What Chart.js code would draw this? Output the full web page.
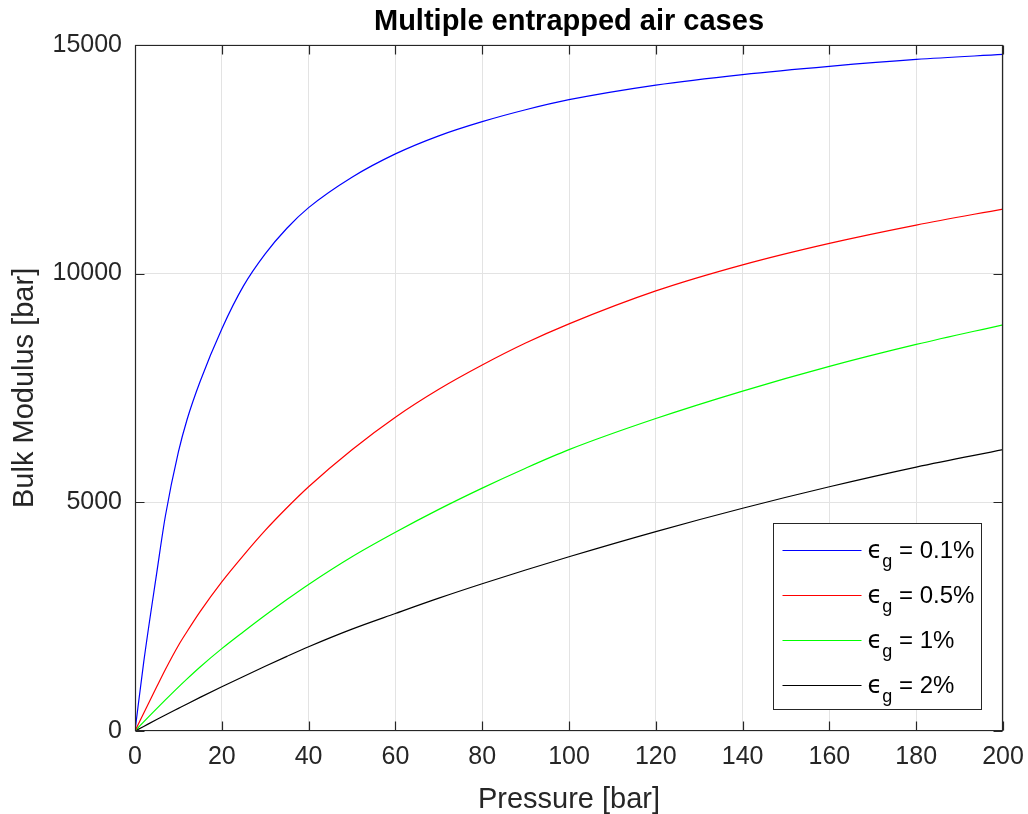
<!DOCTYPE html>
<html lang="en">
<head>
    <meta charset="UTF-8">
    <title>Multiple entrapped air cases</title>
    <script src="https://cdn.jsdelivr.net/npm/chart.js"></script>
    <style>
        body {
            margin: 0;
            padding: 0;
            background: white;
        }
        .chart-container {
            width: 1028px;
            height: 814px;
            position: relative;
        }
    </style>
</head>
<body>
    <div class="chart-container">
        <canvas id="bulkChart"></canvas>
    </div>

    <script>
        // values
        const pressure = [0, 2, 5, 7, 10, 12, 15, 20, 25, 30, 35, 40, 50, 60, 70, 80, 90, 100, 120, 140, 160, 180, 200];
        const bulk01 = [0, 1500, 3450, 4700, 6100, 6810, 7640, 8790, 9730, 10430, 10990, 11440, 12105, 12615, 13010, 13320, 13580, 13800, 14120, 14350, 14530, 14680, 14790];
        const bulk05 = [0, 390, 965, 1345, 1870, 2175, 2610, 3260, 3840, 4385, 4880, 5340, 6150, 6860, 7470, 8000, 8480, 8900, 9620, 10190, 10660, 11060, 11410];
        const bulk1 = [0, 200, 490, 680, 960, 1140, 1400, 1800, 2170, 2530, 2875, 3205, 3810, 4345, 4845, 5310, 5745, 6150, 6830, 7430, 7970, 8450, 8880];
        const bulk2 = [0, 100, 250, 349, 495, 592, 735, 967, 1193, 1415, 1632, 1842, 2227, 2569, 2904, 3219, 3519, 3809, 4359, 4869, 5339, 5769, 6149];
        const airLabels = ['0.1%', '0.5%', '1%', '2%'];
        const lineColors = ['#0000ff', '#ff0000', '#00ff00', '#000000'];
        const xTicks = [0, 20, 40, 60, 80, 100, 120, 140, 160, 180, 200];
        const yTicks = [0, 5000, 10000, 15000];

        const FONT = '"Liberation Sans", Arial, Helvetica, sans-serif';
        const AXIS = '#262626';

        const series = [bulk01, bulk05, bulk1, bulk2];

        const datasets = series.map((vals, i) => ({
            label: airLabels[i],
            data: pressure.map((p, j) => ({ x: p, y: vals[j] })),
            borderColor: lineColors[i],
            borderWidth: 1.2,
            pointRadius: 0,
            fill: false,
            cubicInterpolationMode: 'monotone'
        }));

        // MATLAB style box with inward ticks
        const frame = {
            id: 'frame',
            afterDatasetsDraw(chart) {
                const { ctx, chartArea: a, scales: { x, y } } = chart;
                const L = Math.round(a.left) + 0.5, R = Math.round(a.right) - 0.5;
                const T = Math.round(a.top) + 0.5, B = Math.round(a.bottom) - 0.5;
                const len = 9;
                ctx.save();
                ctx.strokeStyle = AXIS;
                ctx.lineWidth = 1.2;
                ctx.beginPath();
                ctx.rect(L, T, R - L, B - T);
                xTicks.forEach(v => {
                    const px = Math.round(x.getPixelForValue(v)) + 0.5;
                    ctx.moveTo(px, B); ctx.lineTo(px, B - len);
                    ctx.moveTo(px, T); ctx.lineTo(px, T + len);
                });
                yTicks.forEach(v => {
                    const py = Math.round(y.getPixelForValue(v)) + 0.5;
                    ctx.moveTo(L, py); ctx.lineTo(L + len, py);
                    ctx.moveTo(R, py); ctx.lineTo(R - len, py);
                });
                ctx.stroke();
                ctx.restore();
            }
        };

        // legend box with subscripted epsilon
        const epsLegend = {
            id: 'epsLegend',
            afterDraw(chart) {
                const { ctx, chartArea: a } = chart;
                const w = 208, h = 186;
                const bx = Math.round(a.right) - 22 - w + 0.5;
                const by = Math.round(a.bottom) - 22 - h + 0.5;
                ctx.save();
                ctx.fillStyle = 'white';
                ctx.fillRect(bx, by, w, h);
                ctx.strokeStyle = '#262626';
                ctx.lineWidth = 1;
                ctx.strokeRect(bx, by, w, h);
                chart.data.datasets.forEach((ds, i) => {
                    const ly = Math.round(by + 26 + i * 45) + 0.5;
                    ctx.strokeStyle = ds.borderColor;
                    ctx.lineWidth = 1.2;
                    ctx.beginPath();
                    ctx.moveTo(bx + 9, ly);
                    ctx.lineTo(bx + 88, ly);
                    ctx.stroke();

                    const base = ly + 7;
                    let tx = bx + 94;
                    ctx.fillStyle = '#000000';
                    ctx.textBaseline = 'alphabetic';
                    ctx.textAlign = 'left';
                    ctx.font = '24px "DejaVu Sans", sans-serif';
                    ctx.fillText('\u03F5', tx, base);
                    tx += ctx.measureText('\u03F5').width;
                    ctx.font = '18px ' + FONT;
                    ctx.fillText('g', tx, base + 9);
                    tx += ctx.measureText('g').width;
                    ctx.font = '24px ' + FONT;
                    ctx.fillText(' = ' + ds.label, tx, base);
                });
                ctx.restore();
            }
        };

        const ctx = document.getElementById('bulkChart').getContext('2d');

        new Chart(ctx, {
            type: 'line',
            data: { datasets: datasets },
            plugins: [frame, epsLegend],
            options: {
                responsive: true,
                maintainAspectRatio: false,
                animation: false,
                layout: { padding: { left: 0, right: 25, top: 0, bottom: 0 } },
                plugins: {
                    legend: { display: false },
                    tooltip: { enabled: false },
                    title: {
                        display: true,
                        fullSize: false,
                        text: 'Multiple entrapped air cases',
                        color: '#000000',
                        font: { family: FONT, size: 29, weight: 'bold', lineHeight: 1.2 },
                        padding: { top: 5, bottom: 5 }
                    }
                },
                scales: {
                    x: {
                        type: 'linear',
                        min: 0,
                        max: 200,
                        afterFit(scale) {
                            scale.height = 83;
                            scale.paddingLeft = 0;
                            scale.paddingRight = 0;
                        },
                        afterBuildTicks(scale) { scale.ticks = xTicks.map(v => ({ value: v })); },
                        ticks: {
                            color: AXIS,
                            font: { family: FONT, size: 25 },
                            padding: 11,
                            maxRotation: 0,
                            callback: v => String(v)
                        },
                        grid: { color: '#e3e3e3', lineWidth: 1, drawTicks: false },
                        border: { display: false },
                        title: {
                            display: true,
                            text: 'Pressure [bar]',
                            color: AXIS,
                            font: { family: FONT, size: 29, lineHeight: 1.0 },
                            padding: { top: 0, bottom: 0 }
                        }
                    },
                    y: {
                        type: 'linear',
                        min: 0,
                        max: 15000,
                        afterFit(scale) {
                            scale.width = 135;
                            scale.paddingTop = 0;
                            scale.paddingBottom = 0;
                        },
                        afterBuildTicks(scale) { scale.ticks = yTicks.map(v => ({ value: v })); },
                        ticks: {
                            color: AXIS,
                            font: { family: FONT, size: 25 },
                            padding: 13,
                            callback: v => String(v)
                        },
                        grid: { color: '#e3e3e3', lineWidth: 1, drawTicks: false },
                        border: { display: false },
                        title: {
                            display: true,
                            text: 'Bulk Modulus [bar]',
                            color: AXIS,
                            font: { family: FONT, size: 29, lineHeight: 1.2 },
                            padding: { top: 8, bottom: 0 }
                        }
                    }
                }
            }
        });
    </script>
</body>
</html>
